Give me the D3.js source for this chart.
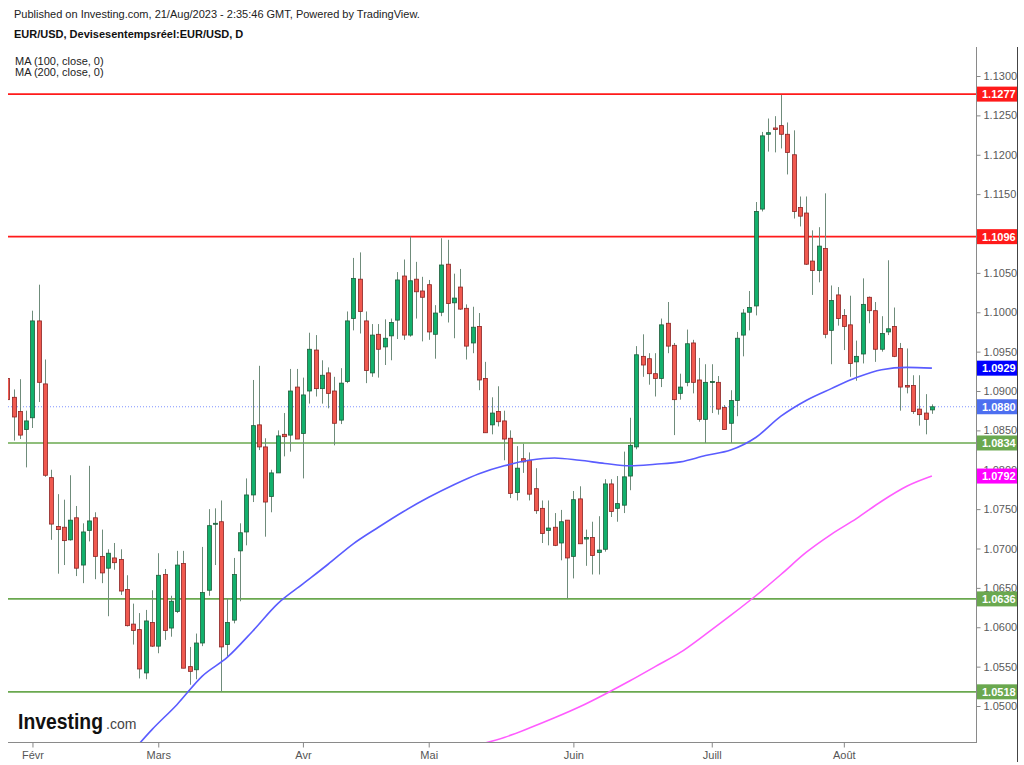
<!DOCTYPE html>
<html><head><meta charset="utf-8">
<script src="https://cdn.jsdelivr.net/npm/d3@7"></script>
<style>
body{margin:0;background:#fff;}
svg{display:block;font-family:"Liberation Sans",Arial,sans-serif;}
</style>
</head><body>
<svg id="chart" width="1024" height="765"></svg>
<script>
// ---------- DATA ----------
const dates = [
"2023-01-26","2023-01-27","2023-01-30","2023-01-31",
"2023-02-01","2023-02-02","2023-02-03","2023-02-06","2023-02-07","2023-02-08","2023-02-09","2023-02-10","2023-02-13","2023-02-14","2023-02-15","2023-02-16","2023-02-17","2023-02-20","2023-02-21","2023-02-22","2023-02-23","2023-02-24","2023-02-27","2023-02-28",
"2023-03-01","2023-03-02","2023-03-03","2023-03-06","2023-03-07","2023-03-08","2023-03-09","2023-03-10","2023-03-13","2023-03-14","2023-03-15","2023-03-16","2023-03-17","2023-03-20","2023-03-21","2023-03-22","2023-03-23","2023-03-24","2023-03-27","2023-03-28","2023-03-29","2023-03-30","2023-03-31",
"2023-04-03","2023-04-04","2023-04-05","2023-04-06","2023-04-07","2023-04-10","2023-04-11","2023-04-12","2023-04-13","2023-04-14","2023-04-17","2023-04-18","2023-04-19","2023-04-20","2023-04-21","2023-04-24","2023-04-25","2023-04-26","2023-04-27","2023-04-28",
"2023-05-01","2023-05-02","2023-05-03","2023-05-04","2023-05-05","2023-05-08","2023-05-09","2023-05-10","2023-05-11","2023-05-12","2023-05-15","2023-05-16","2023-05-17","2023-05-18","2023-05-19","2023-05-22","2023-05-23","2023-05-24","2023-05-25","2023-05-26","2023-05-29","2023-05-30","2023-05-31",
"2023-06-01","2023-06-02","2023-06-05","2023-06-06","2023-06-07","2023-06-08","2023-06-09","2023-06-12","2023-06-13","2023-06-14","2023-06-15","2023-06-16","2023-06-19","2023-06-20","2023-06-21","2023-06-22","2023-06-23","2023-06-26","2023-06-27","2023-06-28","2023-06-29","2023-06-30",
"2023-07-03","2023-07-04","2023-07-05","2023-07-06","2023-07-07","2023-07-10","2023-07-11","2023-07-12","2023-07-13","2023-07-14","2023-07-17","2023-07-18","2023-07-19","2023-07-20","2023-07-21","2023-07-24","2023-07-25","2023-07-26","2023-07-27","2023-07-28","2023-07-31",
"2023-08-01","2023-08-02","2023-08-03","2023-08-04","2023-08-07","2023-08-08","2023-08-09","2023-08-10","2023-08-11","2023-08-14","2023-08-15","2023-08-16","2023-08-17","2023-08-18","2023-08-21"
];
const open = [
1.0916,1.0892,1.0874,1.0851,
1.0866,1.0989,1.0909,1.0790,1.0728,1.0727,1.0711,1.0739,1.0679,1.0723,1.0739,1.0690,1.0675,1.0688,1.0686,1.0648,1.0604,1.0597,1.0542,1.0606,
1.0576,1.0667,1.0599,1.0620,1.0681,1.0550,1.0546,1.0580,1.0647,1.0731,1.0734,1.0578,1.0609,1.0697,1.0721,1.0768,1.0857,1.0829,1.0766,1.0796,1.0845,1.0844,1.0905,
1.0846,1.0900,1.0952,1.0903,1.0923,1.0900,1.0863,1.0912,1.0992,1.1042,1.0989,1.0923,1.0972,1.0956,1.0970,1.0990,1.1046,1.0971,1.1042,1.1027,
1.1035,1.0972,1.1000,1.1061,1.1012,1.1032,1.1005,1.0961,1.0982,1.0916,1.0857,1.0874,1.0862,1.0840,1.0771,1.0814,1.0812,1.0776,1.0751,1.0723,1.0727,1.0707,1.0736,
1.0690,1.0763,1.0712,1.0714,1.0695,1.0699,1.0782,1.0751,1.0755,1.0792,1.0829,1.0944,1.0941,1.0922,1.0916,1.0986,1.0958,1.0897,1.0911,1.0961,1.0914,1.0864,
1.0911,1.0911,1.0879,1.0859,1.0888,1.0971,1.1000,1.1008,1.1131,1.1226,1.1234,1.1237,1.1226,1.1200,1.1133,1.1126,1.1065,1.1053,1.1081,1.0977,1.1022,
1.0996,1.0984,1.0937,1.0947,1.1019,1.1002,1.0953,1.0975,1.0982,1.0954,1.0907,1.0907,1.0877,1.0872,1.0876
];
const high = [
1.0920,1.0902,1.0915,1.0875,
1.1002,1.1035,1.0940,1.0800,1.0769,1.0762,1.0793,1.0754,1.0732,1.0805,1.0746,1.0724,1.0699,1.0707,1.0699,1.0666,1.0630,1.0618,1.0622,1.0647,
1.0694,1.0674,1.0640,1.0697,1.0697,1.0575,1.0592,1.0702,1.0750,1.0751,1.0761,1.0637,1.0688,1.0732,1.0789,1.0914,1.0932,1.0840,1.0800,1.0850,1.0872,1.0928,1.0928,
1.0917,1.0974,1.0971,1.0939,1.0930,1.0918,1.0929,1.1001,1.1069,1.1076,1.1001,1.0985,1.0985,1.0991,1.0992,1.1051,1.1067,1.1096,1.1064,1.1045,
1.1041,1.1009,1.1094,1.1092,1.1049,1.1055,1.1010,1.1007,1.0999,1.0937,1.0892,1.0906,1.0875,1.0850,1.0830,1.0833,1.0822,1.0802,1.0761,1.0761,1.0745,1.0749,1.0736,
1.0773,1.0779,1.0724,1.0734,1.0741,1.0788,1.0788,1.0792,1.0823,1.0866,1.0957,1.0972,1.0948,1.0948,1.0992,1.1013,1.0961,1.0922,1.0978,1.0965,1.0942,1.0934,
1.0934,1.0919,1.0882,1.0901,1.0975,1.1004,1.1027,1.1140,1.1229,1.1246,1.1249,1.1276,1.1241,1.1231,1.1147,1.1147,1.1104,1.1108,1.1151,1.1034,1.1032,
1.1004,1.1021,1.0964,1.1043,1.1020,1.1013,1.0995,1.1066,1.1006,1.0961,1.0954,1.0920,1.0920,1.0896,1.0883
];
const low = [
1.0885,1.0837,1.0839,1.0803,
1.0853,1.0886,1.0791,1.0711,1.0668,1.0679,1.0710,1.0665,1.0656,1.0709,1.0661,1.0656,1.0614,1.0673,1.0641,1.0601,1.0578,1.0535,1.0534,1.0575,
1.0567,1.0584,1.0588,1.0618,1.0548,1.0527,1.0534,1.0576,1.0640,1.0679,1.0518,1.0563,1.0605,1.0633,1.0704,1.0759,1.0825,1.0715,1.0746,1.0796,1.0817,1.0823,1.0839,
1.0789,1.0884,1.0893,1.0884,1.0878,1.0831,1.0858,1.0910,1.0977,1.0973,1.0910,1.0918,1.0917,1.0933,1.0939,1.0966,1.0965,1.0969,1.0992,1.0963,
1.0965,1.0941,1.0995,1.0987,1.0967,1.1003,1.0940,1.0948,1.0901,1.0847,1.0845,1.0855,1.0812,1.0764,1.0761,1.0796,1.0761,1.0744,1.0707,1.0704,1.0703,1.0685,1.0636,
1.0662,1.0706,1.0678,1.0667,1.0667,1.0696,1.0740,1.0734,1.0745,1.0774,1.0826,1.0918,1.0908,1.0893,1.0905,1.0948,1.0844,1.0889,1.0906,1.0897,1.0861,1.0834,
1.0872,1.0870,1.0851,1.0834,1.0868,1.0944,1.0977,1.0996,1.1128,1.1204,1.1203,1.1208,1.1175,1.1119,1.1109,1.1060,1.1022,1.1038,1.0967,1.0934,1.0983,
1.0952,1.0918,1.0913,1.0935,1.0986,1.0937,1.0950,1.0971,1.0943,1.0875,1.0897,1.0871,1.0856,1.0845,1.0871
];
const close = [
1.0889,1.0867,1.0844,1.0862,
1.0989,1.0911,1.0793,1.0731,1.0724,1.0710,1.0736,1.0675,1.0721,1.0735,1.0690,1.0669,1.0694,1.0682,1.0646,1.0602,1.0596,1.0547,1.0608,1.0576,
1.0666,1.0596,1.0633,1.0679,1.0548,1.0544,1.0580,1.0644,1.0729,1.0732,1.0575,1.0606,1.0667,1.0720,1.0768,1.0856,1.0829,1.0759,1.0796,1.0843,1.0842,1.0900,1.0839,
1.0895,1.0953,1.0903,1.0920,1.0897,1.0859,1.0910,1.0989,1.1043,1.1001,1.0926,1.0971,1.0953,1.0967,1.0987,1.1041,1.0971,1.1040,1.1026,1.1019,
1.0975,1.0999,1.1060,1.1011,1.1018,1.1004,1.0957,1.0981,1.0914,1.0847,1.0872,1.0861,1.0839,1.0770,1.0802,1.0810,1.0769,1.0748,1.0719,1.0726,1.0704,1.0734,1.0688,
1.0762,1.0706,1.0714,1.0691,1.0698,1.0782,1.0747,1.0757,1.0791,1.0831,1.0946,1.0933,1.0922,1.0916,1.0984,1.0957,1.0889,1.0905,1.0960,1.0911,1.0864,1.0911,
1.0912,1.0877,1.0851,1.0888,1.0967,1.0999,1.1006,1.1128,1.1224,1.1228,1.1232,1.1226,1.1203,1.1128,1.1122,1.1061,1.1053,1.1084,1.0972,1.1015,1.0992,
1.0982,1.0935,1.0944,1.1010,1.1002,1.0953,1.0973,1.0979,1.0944,1.0905,1.0905,1.0874,1.0870,1.0864,1.0880
];
// Moving averages (bar number, value)
const ma100Bar = [20,24,28,32,36,40,44,48,52,56,60,64,68,72,76,80,84,88,92,96,100,104,108,112,116,120,124,128,132,136,140,144,148];
const ma100Val = [1.0434,1.0470,1.0502,1.0538,1.0562,1.0595,1.0630,1.0655,1.0680,1.0706,1.0727,1.0747,1.0765,1.0781,1.0795,1.0805,1.0812,1.0815,1.0812,1.0808,1.0805,1.0807,1.0810,1.0818,1.0825,1.0841,1.0868,1.0888,1.0903,1.0917,1.0927,1.0930,1.0929];
const ma200Bar = [76,80,84,88,92,96,100,104,108,112,116,120,124,128,132,136,140,144,148];
const ma200Val = [1.0451,1.0460,1.0472,1.0485,1.0499,1.0515,1.0532,1.0550,1.0568,1.0591,1.0615,1.0640,1.0667,1.0695,1.0718,1.0738,1.0760,1.0779,1.0792];
// horizontal levels
const resistanceLevels = [1.1277, 1.1096];
const supportLevels = [1.0834, 1.0636, 1.0518];
const lastPrice = 1.0880;
const ma100Last = 1.0929;
const ma200Last = 1.0792;
const yTicks = [1.0500,1.0550,1.0600,1.0650,1.0700,1.0750,1.0800,1.0850,1.0900,1.0950,1.1000,1.1050,1.1100,1.1150,1.1200,1.1250,1.1300];
const monthNames = ["Janv","Févr","Mars","Avr","Mai","Juin","Juill","Août"];

// ---------- LAYOUT / STYLE ----------
const plot = {left: 8, right: 976, top: 47, bottom: 742};
const axisOuter = 1017;
const col = {
  up: "#12b06c", upStroke: "#1f5c3a",
  down: "#f0594f", downStroke: "#8c2323",
  wick: "#6f8c7b",
  res: "#ff1a1a", sup: "#6aa84f",
  ma100: "#5a5cff", ma200: "#ff5cff",
  last: "#4d6ff0", ma100Lbl: "#0000ff", ma200Lbl: "#ff00ff",
  axisText: "#5a5a5a", axisLine: "#8a8a8a"
};

const svg = d3.select("#chart");
svg.append("rect").attr("width",1024).attr("height",765).attr("fill","#fff");

const n = dates.length;
const bars = d3.range(n).map(i => ({i: i+1, d: dates[i], o: open[i], h: high[i], l: low[i], c: close[i]}));

const x = d3.scaleLinear().domain([1, 148]).range([7.3, 931.9]);
const y = d3.scaleLinear().domain([1.05, 1.13]).range([706, 76]);

svg.append("defs").append("clipPath").attr("id","clip")
  .append("rect").attr("x",plot.left).attr("y",plot.top)
  .attr("width",plot.right-plot.left).attr("height",plot.bottom-plot.top);

const g = svg.append("g").attr("clip-path","url(#clip)");

// level lines
resistanceLevels.forEach(v => {
  g.append("line").attr("x1",plot.left).attr("x2",plot.right)
    .attr("y1",y(v)).attr("y2",y(v)).attr("stroke",col.res).attr("stroke-width",1.6);
});
supportLevels.forEach(v => {
  g.append("line").attr("x1",plot.left).attr("x2",plot.right)
    .attr("y1",y(v)).attr("y2",y(v)).attr("stroke",col.sup).attr("stroke-width",1.6);
});
g.append("line").attr("x1",plot.left).attr("x2",plot.right)
  .attr("y1",y(lastPrice)).attr("y2",y(lastPrice))
  .attr("stroke","#7f93ff").attr("stroke-width",1).attr("stroke-dasharray","1,2");

// candles
const cg = g.append("g");
cg.selectAll("line.wick").data(bars).join("line").attr("class","wick")
  .attr("x1",d=>Math.round(x(d.i))+0.5).attr("x2",d=>Math.round(x(d.i))+0.5)
  .attr("y1",d=>y(d.h)).attr("y2",d=>y(d.l))
  .attr("stroke",col.wick).attr("stroke-width",1);
cg.selectAll("rect.body").data(bars).join("rect").attr("class","body")
  .attr("x",d=>Math.round(x(d.i))-1.5)
  .attr("width",4)
  .attr("y",d=>y(Math.max(d.o,d.c)))
  .attr("height",d=>Math.max(1, Math.abs(y(d.o)-y(d.c))))
  .attr("fill",d=>d.c>=d.o?col.up:col.down)
  .attr("stroke",d=>d.c>=d.o?col.upStroke:col.downStroke)
  .attr("stroke-width",0.8);

// moving averages
const line = d3.line().x(d=>x(d[0])).y(d=>y(d[1])).curve(d3.curveMonotoneX);
g.append("path").datum(ma100Bar.map((b,k)=>[b,ma100Val[k]]))
  .attr("d",line).attr("fill","none").attr("stroke",col.ma100).attr("stroke-width",1.6);
g.append("path").datum(ma200Bar.map((b,k)=>[b,ma200Val[k]]))
  .attr("d",line).attr("fill","none").attr("stroke",col.ma200).attr("stroke-width",1.6);

// ---------- AXES ----------
svg.append("line").attr("x1",plot.left).attr("x2",plot.right)
  .attr("y1",plot.bottom+0.5).attr("y2",plot.bottom+0.5)
  .attr("stroke",col.axisLine).attr("stroke-width",1);
svg.append("line").attr("x1",plot.right+0.5).attr("x2",plot.right+0.5)
  .attr("y1",plot.top).attr("y2",plot.bottom+1)
  .attr("stroke",col.axisLine).attr("stroke-width",1);
svg.append("line").attr("x1",axisOuter+0.5).attr("x2",axisOuter+0.5)
  .attr("y1",plot.top).attr("y2",762)
  .attr("stroke","#444").attr("stroke-width",1);

const yAxis = d3.axisRight(y).tickValues(yTicks).tickSize(4).tickPadding(3).tickFormat(d3.format(".4f"));
const ya = svg.append("g").attr("transform",`translate(${plot.right+0.5},0)`).call(yAxis);
ya.select(".domain").remove();
ya.selectAll(".tick line").attr("stroke","#888");
ya.selectAll(".tick text").attr("fill",col.axisText).attr("font-size",11)
  .attr("font-family","'Liberation Sans',Arial,sans-serif");

// month ticks from data (first trading day of each month)
const monthStarts = bars.filter((b,k)=> k>0 && b.d.slice(5,7)!==bars[k-1].d.slice(5,7));
const xAxis = d3.axisBottom(x).tickValues(monthStarts.map(b=>b.i))
  .tickSize(5).tickPadding(4)
  .tickFormat(i => monthNames[+dates[i-1].slice(5,7)-1]);
const xa = svg.append("g").attr("transform",`translate(0,${plot.bottom+0.5})`).call(xAxis);
xa.select(".domain").remove();
xa.selectAll(".tick line").attr("stroke","#888");
xa.selectAll(".tick text").attr("fill","#555").attr("font-size",11)
  .attr("font-family","'Liberation Sans',Arial,sans-serif");

// price labels on axis
function priceLabel(v, fill){
  const yy = y(v);
  svg.append("rect").attr("x",plot.right+1).attr("y",yy-7.5).attr("width",axisOuter-plot.right-1).attr("height",15).attr("fill",fill);
  svg.append("text").attr("x",plot.right+6).attr("y",yy+4).attr("fill","#fff")
    .attr("font-size",11).attr("font-weight","bold").text(d3.format(".4f")(v));
}
resistanceLevels.forEach(v=>priceLabel(v,col.res));
supportLevels.forEach(v=>priceLabel(v,col.sup));
priceLabel(ma200Last,col.ma200Lbl);
priceLabel(ma100Last,col.ma100Lbl);
priceLabel(lastPrice,col.last);

// ---------- TEXTS ----------
svg.append("text").attr("x",14).attr("y",18).attr("font-size",11).attr("fill","#222")
  .text("Published on Investing.com, 21/Aug/2023 - 2:35:46 GMT, Powered by TradingView.");
svg.append("text").attr("x",14).attr("y",38).attr("font-size",11).attr("font-weight","bold").attr("fill","#111")
  .text("EUR/USD, Devisesentempsréel:EUR/USD, D");
svg.append("text").attr("x",15).attr("y",65).attr("font-size",11).attr("fill","#222").text("MA (100, close, 0)");
svg.append("text").attr("x",15).attr("y",76).attr("font-size",11).attr("fill","#222").text("MA (200, close, 0)");

// logo
svg.append("g").attr("transform","translate(18,729) scale(0.88,1)")
  .append("text").attr("x",0).attr("y",0)
  .attr("font-size",22).attr("font-weight","bold").attr("fill","#111").text("Investing");
svg.append("text").attr("x",106).attr("y",729)
  .attr("font-size",14).attr("fill","#444").text(".com");
</script>
</body></html>
